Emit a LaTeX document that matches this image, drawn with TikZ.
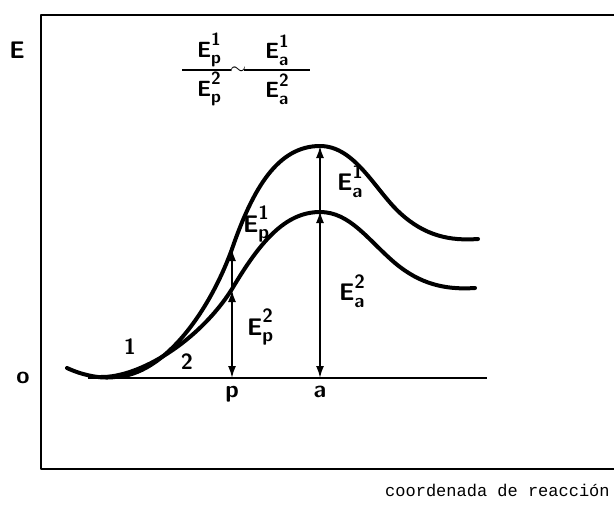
\documentclass[tikz,border=0pt]{standalone}
\usepackage{fontspec}
\setmonofont{Liberation Mono}
\usepackage{tikz}
\usetikzlibrary{arrows.meta,positioning,calc}

% energia con subindice y superindice apilados
\newcommand{\En}[2]{E\rlap{\raisebox{-0.6ex}{\scalebox{0.8}{#1}}}\raisebox{1.15ex}{\scalebox{0.8}{#2}}}

\tikzset{
    curva/.style={line width=4pt, line cap=round},
    flecha/.style={line width=1.8pt, -{Latex[length=12pt,width=8pt]}},
    dobleflecha/.style={line width=1.8pt, {Latex[length=12pt,width=8pt]}-{Latex[length=12pt,width=8pt]}},
    etiq/.style={font=\sffamily\bfseries\fontsize{24}{24}\selectfont, inner sep=0pt},
    etiqfr/.style={font=\sffamily\bfseries\fontsize{22}{22}\selectfont, inner sep=0pt},
    raya/.style={line width=1.8pt},
}

\begin{document}
\begin{tikzpicture}[x=1pt, y=-1pt]
    \useasboundingbox (0,0) rectangle (614,507);

    % marco
    \draw[line width=2.6pt, line join=round] (614,15) -- (41,15) -- (41,469) -- (614,469);

    % eje de reaccion
    \draw[line width=2pt] (88,378) -- (487,378);

    % curva 1
    \draw[curva] (67,368) .. controls (82,375) and (100,379) .. (115,377)
        .. controls (165,375) and (210,310) .. (232,249)
        .. controls (253,188) and (278,146) .. (320,146)
        .. controls (355,146) and (375,190) .. (400,213)
        .. controls (425,236) and (450,241) .. (478,239);
    % curva 2
    \draw[curva] (100,377) .. controls (140,378) and (200,340) .. (232,289)
        .. controls (260,242) and (285,212) .. (320,212)
        .. controls (350,212) and (368,240) .. (395,263)
        .. controls (420,284) and (445,290) .. (475,288);

    % puntos de las flechas
    \coordinate (p0) at (232,378);
    \coordinate (p2) at (232,290);
    \coordinate (p1) at (232,249);
    \coordinate (a0) at (320,378);
    \coordinate (a2) at (320,211);
    \coordinate (a1) at (320,146);

    \draw[flecha] (p2) -- (p1);
    \draw[dobleflecha] (p0) -- (p2);
    \draw[flecha] (a2) -- (a1);
    \draw[dobleflecha] (a0) -- (a2);

    % etiquetas
    \node[etiq] (E) at (17,50) {E};
    \node[etiq] (o) at (23,378) {o};
    \node[etiq, below=8pt of p0] (p) {p};
    \node[etiq, below=8pt of a0] (a) {a};
    \node[etiq, font=\sffamily\bfseries\fontsize{22}{22}\selectfont] (uno) at (130,347) {1};
    \node[etiq, font=\sffamily\bfseries\fontsize{22}{22}\selectfont] (dos) at (187,362) {2};

    \node[etiq] (Ep1) at (256,224) {\En{p}{1}};
    \node[etiq] (Ep2) at (260,327) {\En{p}{2}};
    \node[etiq] (Ea1) at (350,181) {\En{a}{1}};
    \node[etiq] (Ea2) at (352,291) {\En{a}{2}};

    % relacion de energias
    \node[etiqfr] (fp1) at (209,50) {\En{p}{1}};
    \node[etiqfr] (fp2) at (209,89) {\En{p}{2}};
    \node[etiqfr] (fa1) at (277,50) {\En{a}{1}};
    \node[etiqfr] (fa2) at (277,89) {\En{a}{2}};
    \draw[raya] (182,70) -- (231,70);
    \draw[raya] (244,70) -- (310,70);
    \node[etiqfr] (aprox) at (238,71) {$\sim$};

    \node[font=\ttfamily\fontsize{17}{17}\selectfont, anchor=west, inner sep=0pt] (xlab) at (385,490) {coordenada de reacción};
\end{tikzpicture}
\end{document}
